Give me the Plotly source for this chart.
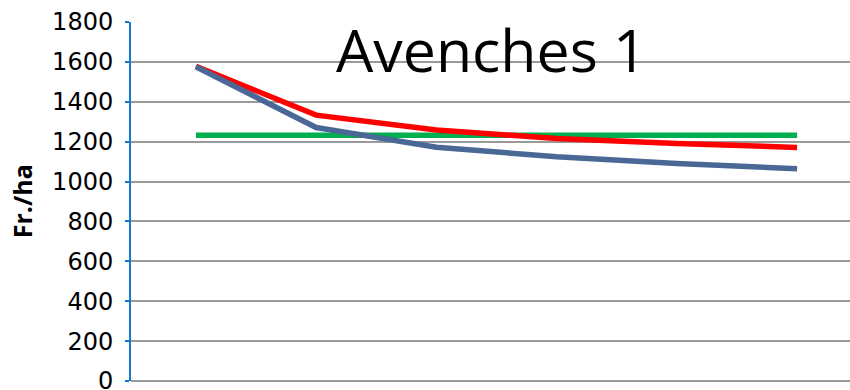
import plotly.graph_objects as go

# Cost per hectare over six successive steps
steps = [1, 2, 3, 4, 5, 6]
reference_cost = [1232, 1232, 1232, 1232, 1232, 1232]
red_cost = [1578, 1333, 1258, 1216, 1191, 1171]
blue_cost = [1576, 1271, 1172, 1124, 1091, 1064]

y_ticks = [0, 200, 400, 600, 800, 1000, 1200, 1400, 1600, 1800]

fig = go.Figure()
fig.add_trace(go.Scatter(x=steps, y=reference_cost, mode="lines",
                         line=dict(color="#00B050", width=5.5), name="Référence"))
fig.add_trace(go.Scatter(x=steps, y=red_cost, mode="lines",
                         line=dict(color="#FF0000", width=5.5), name="Variante A"))
fig.add_trace(go.Scatter(x=steps, y=blue_cost, mode="lines",
                         line=dict(color="#4A6895", width=5.5), name="Variante B"))

fig.update_layout(
    width=850, height=390,
    margin=dict(l=131, r=0, t=22, b=9, autoexpand=False),
    paper_bgcolor="white", plot_bgcolor="white",
    showlegend=False,
    font=dict(family="DejaVu Sans", color="black"),
    xaxis=dict(range=[0.46, 6.44], showgrid=False, zeroline=False,
               showticklabels=False, showline=False, ticks="",
               automargin=False),
    yaxis=dict(range=[0, 1800], tickvals=y_ticks, showgrid=True,
               gridcolor="#9A9A9A", gridwidth=1.5,
               zeroline=True, zerolinecolor="#9A9A9A", zerolinewidth=2,
               showline=True, linecolor="#1478D2", linewidth=2,
               ticks="outside", ticklen=4, tickcolor="#1478D2", tickwidth=2,
               tickfont=dict(size=24, family="DejaVu Sans", color="black"),
               ticklabelstandoff=7, ticklabeloverflow="allow",
               automargin=False),
    annotations=[
        dict(text="Avenches 1", xref="paper", yref="paper", x=0.502, y=0.925,
             xanchor="center", yanchor="middle", showarrow=False,
             font=dict(size=59, family="Open Sans", color="black")),
        dict(text="<b>Fr./ha</b>", xref="paper", yref="paper",
             x=-0.152, y=0.5, xanchor="center", yanchor="middle",
             textangle=-90, showarrow=False,
             font=dict(size=25, family="Open Sans", color="black")),
    ],
)

fig.write_html("out.html")
